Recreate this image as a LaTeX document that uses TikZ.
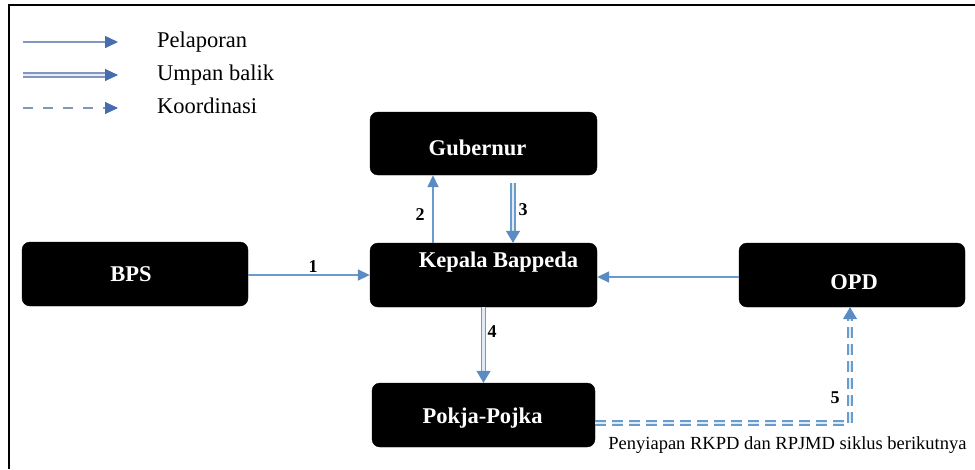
\documentclass[tikz,border=0pt]{standalone}
\usepackage{fontspec}
\setmainfont{Liberation Serif}
\usetikzlibrary{arrows.meta}
\definecolor{arr}{RGB}{105,155,205}
\definecolor{arrhead}{RGB}{90,140,195}
\definecolor{legline}{RGB}{130,150,190}
\definecolor{leghead}{RGB}{70,110,175}
\begin{document}
\begin{tikzpicture}[x=1pt,y=-1pt,
  box/.style={draw=black, fill=black, rounded corners=8pt, minimum width=226pt, minimum height=64pt, inner sep=0pt},
  boxtext/.style={text=white, font=\fontsize{22.5}{26}\selectfont\bfseries, inner sep=0pt},
  num/.style={font=\fontsize{18}{21}\selectfont\bfseries, inner sep=0pt},
  legtext/.style={font=\fontsize{22.5}{26}\selectfont, inner sep=0pt, anchor=base west},
  thinarr/.style={draw=arr, line width=1.6pt, -{Triangle[length=12pt,width=11pt,color=arrhead]}},
  headonly/.style={draw=arr, line width=1.3pt, -{Triangle[length=12pt,width=14pt,color=arrhead]}},
  dbl/.style={draw=arr, double=white!80!arr, double distance=2.4pt, line width=1.7pt},
  dbldash/.style={draw=arr, double=white!80!arr, double distance=2.2pt, line width=1.6pt, dash pattern=on 11pt off 6pt},
  legthin/.style={draw=legline, line width=1.6pt, -{Triangle[length=13pt,width=12pt,color=leghead]}},
  legdbl/.style={draw=legline, double=white!80!legline, double distance=1.8pt, line width=1.8pt, shorten >=11pt},
  legdash/.style={draw=legline, line width=2.8pt, dash pattern=on 10pt off 10pt, shorten >=11pt},
  leghead/.style={draw=leghead, line width=1pt, -{Triangle[length=13pt,width=12pt,color=leghead]}}
]
\useasboundingbox (0,0) rectangle (975,469);
\fill[white] (0,0) rectangle (975,469);
% frame (only top and left visible)
\draw[line width=1.6pt] (975,5) -- (9,5) -- (9,469);

% legend
\coordinate (l1a) at (23,42); \coordinate (l1b) at (118,42);
\coordinate (l2a) at (23,75); \coordinate (l2b) at (118,75);
\coordinate (l3a) at (23,108); \coordinate (l3b) at (118,108);
\draw[legthin] (l1a) -- (l1b);
\draw[legdbl] (l2a) -- (l2b);
\draw[leghead] ([xshift=-1pt]l2b) -- (l2b);
\draw[legdash] (l3a) -- (l3b);
\draw[leghead] ([xshift=-1pt]l3b) -- (l3b);
\node[legtext] (t1) at (157,47) {Pelaporan};
\node[legtext] (t2) at (157,80) {Umpan balik};
\node[legtext] (t3) at (157,113) {Koordinasi};

% boxes
\node[box, minimum width=227pt, minimum height=63pt] (gub) at (483.5,143.5) {};
\node[box, minimum width=227pt] (kep) at (483.5,275) {};
\node[box] (bps) at (135,274) {};
\node[box] (opd) at (852,275) {};
\node[box, minimum width=223pt] (pok) at (483.5,415) {};

\node[boxtext] (gubt) at ([xshift=-6pt,yshift=-4pt]gub.center) {Gubernur};
\node[boxtext] (kept) at ([xshift=15pt,yshift=13pt]kep.center) {Kepala Bappeda};
\node[boxtext] (bpst) at ([xshift=-4pt]bps.center) {BPS};
\node[boxtext] (opdt) at ([xshift=2pt,yshift=-7pt]opd.center) {OPD};
\node[boxtext] (pokt) at ([xshift=-1pt,yshift=-3pt]pok.center) {Pokja-Pojka};

% connectors
\draw[thinarr] ([yshift=-1pt]bps.east) -- ([yshift=-1pt]bps.east -| kep.west);
\draw[thinarr] ([xshift=-50.5pt]kep.north) -- ([xshift=-50.5pt]gub.south);
\draw[dbl, shorten >=11pt] ([xshift=29.5pt,yshift=-8pt]gub.south) -- ([xshift=29.5pt]kep.north);
\draw[headonly] ([xshift=29.5pt,yshift=1pt]kep.north) -- ([xshift=29.5pt]kep.north);
\draw[thinarr] ([yshift=-2pt]opd.west) -- ([yshift=-2pt]kep.east);
\draw[dbl, shorten >=11pt] (kep.south) -- (pok.north);
\draw[headonly] ([yshift=1pt]pok.north) -- (pok.north);
\draw[dbldash, shorten >=11pt] ([yshift=-8pt]pok.east) -| ([xshift=-2pt]opd.south);
\draw[headonly] ([xshift=-2pt,yshift=-1pt]opd.south) -- ([xshift=-2pt]opd.south);

% labels
\node[num] (n1) at (313,267) {1};
\node[num] (n2) at (420,215) {2};
\node[num] (n3) at (523,210) {3};
\node[num] (n4) at (492,332) {4};
\node[num] (n5) at (835,398) {5};
\node[font=\fontsize{18.5}{22}\selectfont, inner sep=0pt] (note) at (787.5,445) {Penyiapan RKPD dan RPJMD siklus berikutnya};
\end{tikzpicture}
\end{document}
